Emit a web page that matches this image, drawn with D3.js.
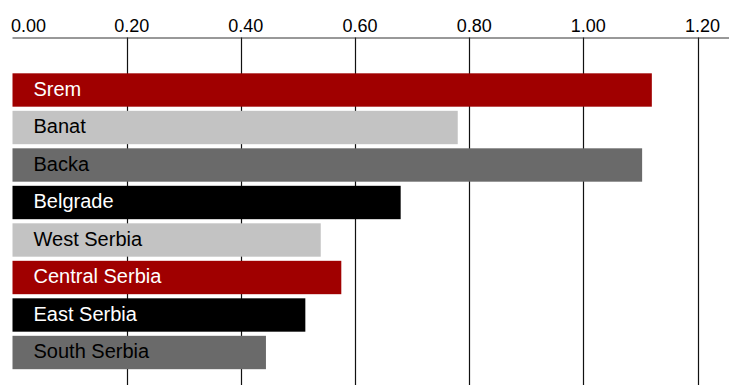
<!DOCTYPE html>
<html>
<head>
<meta charset="utf-8">
<script src="https://cdn.jsdelivr.net/npm/d3@7"></script>
<style>
  html, body { margin: 0; padding: 0; background: #fff; }
  svg { display: block; }
  text { font-family: "Liberation Sans", Arial, sans-serif; }
</style>
</head>
<body>
<svg id="chart" width="729" height="385"></svg>
<script>
// Regions and their values
const regions = ["Srem", "Banat", "Backa", "Belgrade", "West Serbia", "Central Serbia", "East Serbia", "South Serbia"];
const values = [1.12, 0.78, 1.103, 0.68, 0.54, 0.576, 0.513, 0.444];
const barColors = ["#a00000", "#c3c3c3", "#6a6a6a", "#000000", "#c3c3c3", "#a00000", "#000000", "#6a6a6a"];
const labelColors = ["#ffffff", "#000000", "#000000", "#ffffff", "#000000", "#ffffff", "#ffffff", "#000000"];
const tickValues = [0, 0.2, 0.4, 0.6, 0.8, 1.0, 1.2];

const W = 729, H = 385;
const svg = d3.select("#chart");

const x = d3.scaleLinear().domain([0, 1.2]).range([12.5, 697.5]);
const y = d3.scaleBand().domain(regions).range([71.25, 371.25]).paddingInner(0.11).paddingOuter(0.055);

const axisY = 37.5;

// Vertical gridlines (behind the bars)
svg.append("g")
  .selectAll("line")
  .data(tickValues.filter(d => d > 0))
  .join("line")
  .attr("x1", d => Math.round(x(d)) + 0.5)
  .attr("x2", d => Math.round(x(d)) + 0.5)
  .attr("y1", axisY)
  .attr("y2", H)
  .attr("stroke", "#111")
  .attr("stroke-width", 1.2);

// Top axis line
svg.append("line")
  .attr("x1", x(0))
  .attr("x2", W)
  .attr("y1", axisY + 0.5)
  .attr("y2", axisY + 0.5)
  .attr("stroke", "#333")
  .attr("stroke-width", 1);

// Tick labels
svg.append("g")
  .selectAll("text")
  .data(tickValues)
  .join("text")
  .attr("x", (d, i) => i === 0 ? x(d) - 1.5 : x(d) + 5)
  .attr("y", 31.5)
  .attr("text-anchor", (d, i) => i === 0 ? "start" : "middle")
  .attr("font-size", 18)
  .attr("fill", "#000")
  .text(d => d3.format(".2f")(d));

// Bars
const rows = regions.map((r, i) => ({ region: r, value: values[i], color: barColors[i], labelColor: labelColors[i] }));

svg.append("g")
  .selectAll("rect")
  .data(rows)
  .join("rect")
  .attr("x", x(0))
  .attr("y", d => y(d.region))
  .attr("width", d => x(d.value) - x(0))
  .attr("height", y.bandwidth())
  .attr("fill", d => d.color);

// Region labels inside the bars
svg.append("g")
  .selectAll("text")
  .data(rows)
  .join("text")
  .attr("x", 33.5)
  .attr("y", d => y(d.region) + y.bandwidth() / 2 + 5.8)
  .attr("font-size", 20)
  .attr("fill", d => d.labelColor)
  .text(d => d.region);
</script>
</body>
</html>
